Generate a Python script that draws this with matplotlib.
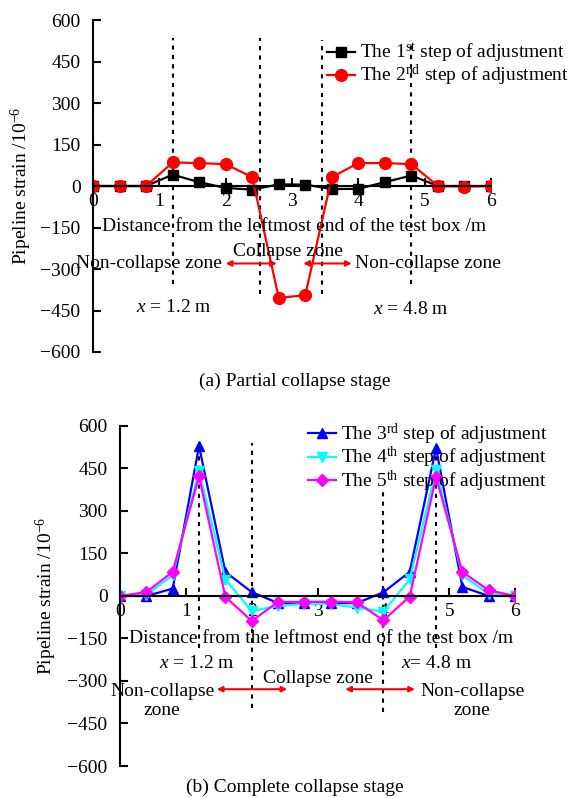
import numpy as np
import matplotlib
matplotlib.use('Agg')
import matplotlib.pyplot as plt

plt.rcParams['font.family'] = ['Liberation Serif', 'DejaVu Serif']
plt.rcParams['mathtext.fontset'] = 'custom'
plt.rcParams['mathtext.rm'] = 'Liberation Serif'
plt.rcParams['mathtext.it'] = 'Liberation Serif:italic'
plt.rcParams['font.size'] = 14

# Measuring points along the pipeline (m)
distance = [0, 0.4, 0.8, 1.2, 1.6, 2.0, 2.4, 2.8, 3.2, 3.6, 4.0, 4.4, 4.8, 5.2, 5.6, 6.0]

# Partial collapse stage
step1 = [0, 0, 0, 41, 14, -7, -13, 6, 5, -11, -10, 14, 38, 0, 0, 0]
step2 = [0, 0, 0, 85, 83, 79, 32, -404, -395, 32, 83, 83, 79, 0, -2, 0]

# Complete collapse stage
step3 = [0, 0, 26, 529, 85, 14, -25, -25, -25, -25, 13, 85, 522, 32, 0, 0]
step4 = [0, 5, 73, 441, 58, -53, -35, -28, -28, -41, -56, 59, 444, 73, 8, 0]
step5 = [0, 14, 85, 422, -3, -88, -21, -21, -20, -22, -86, -2, 420, 85, 20, 0]

yticks = [-600, -450, -300, -150, 0, 150, 300, 450, 600]
xticks = [0, 1, 2, 3, 4, 5, 6]

xlabel = 'Distance from the leftmost end of the test box /m'
ylabel = 'Pipeline strain /10$^{-6}$'


def style_axes(ax):
    ax.set_xlim(0, 6)
    ax.set_ylim(-600, 600)
    ax.spines['top'].set_visible(False)
    ax.spines['right'].set_visible(False)
    ax.spines['bottom'].set_position(('data', 0))
    ax.spines['left'].set_linewidth(1.5)
    ax.spines['bottom'].set_linewidth(1.5)
    ax.set_xticks(xticks)
    ax.set_yticks(yticks)
    ax.tick_params(axis='both', direction='in', length=6, width=1.5)
    ax.tick_params(axis='y', pad=9)
    ax.tick_params(axis='x', pad=5)
    ax.set_ylabel(ylabel)
    ax.patch.set_alpha(0)


fig = plt.figure(figsize=(5.71, 7.98), dpi=100)

# (a) Partial collapse stage
ax1 = fig.add_axes([0.1629, 0.5589, 0.6970, 0.4160])
style_axes(ax1)
ax1.yaxis.set_label_coords(-0.148, 0.5)

for xv, y0, y1 in [(1.2, -356, 535), (2.52, -392, 535), (3.45, -392, 528), (4.8, -356, 528)]:
    ax1.plot([xv, xv], [y0, y1], ls=(0, (2, 2.5)), color='black', lw=1.5)

ax1.plot(distance, step1, '-s', color='black', lw=1.6, ms=7.5,
         label=r'The 1$^{\mathrm{st}}$ step of adjustment')
ax1.plot(distance, step2, '-o', color='red', lw=1.6, ms=8.5,
         label=r'The 2$^{\mathrm{nd}}$ step of adjustment')

ax1.text(3.03, -147, xlabel, ha='center', va='center')
ax1.text(1.945, -280, 'Non-collapse zone', ha='right', va='center')
ax1.text(2.94, -237, 'Collapse zone', ha='center', va='center')
ax1.text(3.95, -280, 'Non-collapse zone', ha='left', va='center')
ax1.text(1.22, -439, '$x$ = 1.2 m', ha='center', va='center')
ax1.text(4.79, -446, '$x$ = 4.8 m', ha='center', va='center')
arrow = dict(arrowstyle='<|-|>', color='red', lw=1.5, mutation_scale=8, shrinkA=0, shrinkB=0)
ax1.annotate('', xy=(2.00, -280), xytext=(2.77, -280), arrowprops=arrow)
ax1.annotate('', xy=(3.17, -280), xytext=(3.90, -280), arrowprops=arrow)

ax1.legend(loc='upper left', bbox_to_anchor=(0.588, 0.935), frameon=False,
           borderpad=0, borderaxespad=0, handlelength=1.45, handletextpad=0.25,
           labelspacing=-0.1)

# (b) Complete collapse stage
ax2 = fig.add_axes([0.2102, 0.0401, 0.6918, 0.4261])
style_axes(ax2)
ax2.yaxis.set_label_coords(-0.155, 0.5)

for xv, y0, y1 in [(1.2, -185, 545), (2.0, -397, 539), (4.0, -411, 384), (4.8, -185, 545)]:
    ax2.plot([xv, xv], [y0, y1], ls=(0, (2, 2.5)), color='black', lw=1.5)

ax2.plot(distance, step3, '-^', color='#0000ff', lw=1.6, ms=7.5,
         label=r'The 3$^{\mathrm{rd}}$ step of adjustment')
ax2.plot(distance, step4, '-v', color='cyan', lw=1.6, ms=7.5,
         label=r'The 4$^{\mathrm{th}}$ step of adjustment')
ax2.plot(distance, step5, '-D', color='magenta', lw=1.6, ms=6.5,
         label=r'The 5$^{\mathrm{th}}$ step of adjustment')

ax2.text(3.05, -150, xlabel, ha='center', va='center')
ax2.text(1.17, -238, '$x$ = 1.2 m', ha='center', va='center')
ax2.text(4.80, -238, '$x$= 4.8 m', ha='center', va='center')
ax2.text(3.01, -291, 'Collapse zone', ha='center', va='center')
ax2.text(0.64, -371, 'Non-collapse\nzone', ha='center', va='center', linespacing=1.2)
ax2.text(5.35, -371, 'Non-collapse\nzone', ha='center', va='center', linespacing=1.2)
ax2.annotate('', xy=(1.47, -329), xytext=(2.54, -329), arrowprops=arrow)
ax2.annotate('', xy=(3.42, -329), xytext=(4.48, -329), arrowprops=arrow)

ax2.legend(loc='upper left', bbox_to_anchor=(0.476, 1.012), frameon=False,
           borderpad=0, borderaxespad=0, handlelength=1.45, handletextpad=0.25,
           labelspacing=-0.1)

fig.text(0.517, 0.5226, '(a) Partial collapse stage', ha='center', va='center')
fig.text(0.517, 0.0138, '(b) Complete collapse stage', ha='center', va='center')

fig.savefig('out.png', dpi=100)
